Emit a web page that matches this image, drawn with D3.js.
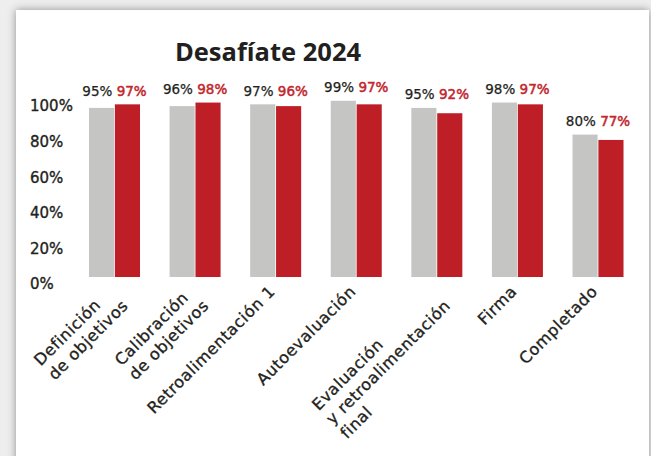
<!DOCTYPE html>
<html>
<head>
<meta charset="utf-8">
<script src="https://cdn.jsdelivr.net/npm/d3@7"></script>
<style>
  html, body { margin: 0; padding: 0; background: #eeeeee; }
  svg { display: block; }
</style>
</head>
<body>
<svg id="chart" width="651" height="456"></svg>
<script>
// Stages of the 2024 cycle and completion rate per series
const categories = [
  "Definición\nde objetivos",
  "Calibración\nde objetivos",
  "Retroalimentación 1",
  "Autoevaluación",
  "Evaluación\ny retroalimentación\nfinal",
  "Firma",
  "Completado"
];
const seriesNames = ["previo", "actual"];
const greyValues = [95, 96, 97, 99, 95, 98, 80];
const redValues  = [97, 98, 96, 97, 92, 97, 77];
const tickValues = [0, 20, 40, 60, 80, 100];
const title = "Desafíate 2024";

const colors = { previo: "#c5c5c3", actual: "#be1e25" };
const textColors = { previo: "#231f20", actual: "#c1272d" };
const fontSmall = "'DejaVu Sans', sans-serif";
const ink = "#231f20";

const svg = d3.select("#chart");

// shadowed white card
const defs = svg.append("defs");
const f = defs.append("filter").attr("id", "shadow")
  .attr("x", "-5%").attr("y", "-5%").attr("width", "110%").attr("height", "110%");
f.append("feDropShadow").attr("dx", 0).attr("dy", 0).attr("stdDeviation", 4)
  .attr("flood-color", "#000").attr("flood-opacity", 0.4);
svg.append("rect").attr("x", 16).attr("y", 10).attr("width", 633).attr("height", 470)
  .attr("fill", "#ffffff").attr("filter", "url(#shadow)");

// title
svg.append("text")
  .attr("x", 268).attr("y", 61)
  .attr("text-anchor", "middle")
  .attr("font-family", "'Open Sans', sans-serif")
  .attr("font-weight", 700)
  .attr("font-size", 25.5)
  .attr("fill", ink)
  .text(title);

const rows = categories.map((c, i) => ({ cat: c, previo: greyValues[i], actual: redValues[i] }));

const x0 = d3.scaleBand().domain(categories).range([74.2, 638.3])
  .paddingInner(0.367).paddingOuter(0.1835);
const x1 = d3.scaleBand().domain(seriesNames).range([0, x0.bandwidth()]).paddingInner(0.03);
const y = d3.scaleLinear().domain([0, 100]).range([277, 99]);

// y axis labels (no line, no ticks)
const yAxis = svg.append("g").attr("transform", "translate(30,0)")
  .call(d3.axisRight(y).tickValues(tickValues).tickFormat(d => d + "%").tickSize(0).tickPadding(0));
yAxis.select(".domain").remove();
yAxis.selectAll("text")
  .attr("font-family", fontSmall)
  .attr("font-size", 15)
  .attr("fill", ink)
  .attr("stroke", ink)
  .attr("stroke-width", 0.35)
  .attr("dy", "0.32em")
  .attr("transform", "translate(0,7)");

// bars
const groups = svg.append("g").selectAll("g").data(rows).join("g")
  .attr("transform", d => `translate(${x0(d.cat)},0)`);
groups.selectAll("rect")
  .data(d => seriesNames.map(k => ({ key: k, value: d[k] })))
  .join("rect")
  .attr("x", d => x1(d.key))
  .attr("width", x1.bandwidth())
  .attr("y", d => y(d.value))
  .attr("height", d => y(0) - y(d.value))
  .attr("fill", d => colors[d.key]);

// value labels above each pair
const vl = svg.append("g").selectAll("text").data(rows).join("text")
  .attr("x", d => x0(d.cat) + x0.bandwidth() / 2)
  .attr("y", d => y(Math.max(d.previo, d.actual)) - 8.5)
  .attr("text-anchor", "middle")
  .attr("font-family", fontSmall)
  .attr("font-size", 13.5);
vl.append("tspan").attr("fill", textColors.previo)
  .attr("stroke", textColors.previo).attr("stroke-width", 0.25)
  .text(d => d.previo + "%");
vl.append("tspan").attr("fill", textColors.actual)
  .attr("stroke", textColors.actual).attr("stroke-width", 0.5)
  .text(d => " " + d.actual + "%");

// rotated category labels, lines start-aligned, block end at the band centre
const lineH = 20;
const catG = svg.append("g").selectAll("g").data(categories).join("g")
  .attr("transform", d => `translate(${x0(d) + x0.bandwidth() / 2 - 8},284) rotate(-45)`);
const catT = catG.append("text")
  .attr("font-family", fontSmall)
  .attr("font-size", 16)
  .attr("letter-spacing", 0.6)
  .attr("fill", ink)
  .attr("stroke", ink)
  .attr("stroke-width", 0.35);
catT.selectAll("tspan").data(d => d.split("\n")).join("tspan")
  .attr("x", 0)
  .attr("y", (d, i) => 12 + i * lineH)
  .text(d => d);
catT.each(function () {
  const b = this.getBBox();
  d3.select(this).attr("transform", `translate(${-(b.x + b.width)},0)`);
});
</script>
</body>
</html>
